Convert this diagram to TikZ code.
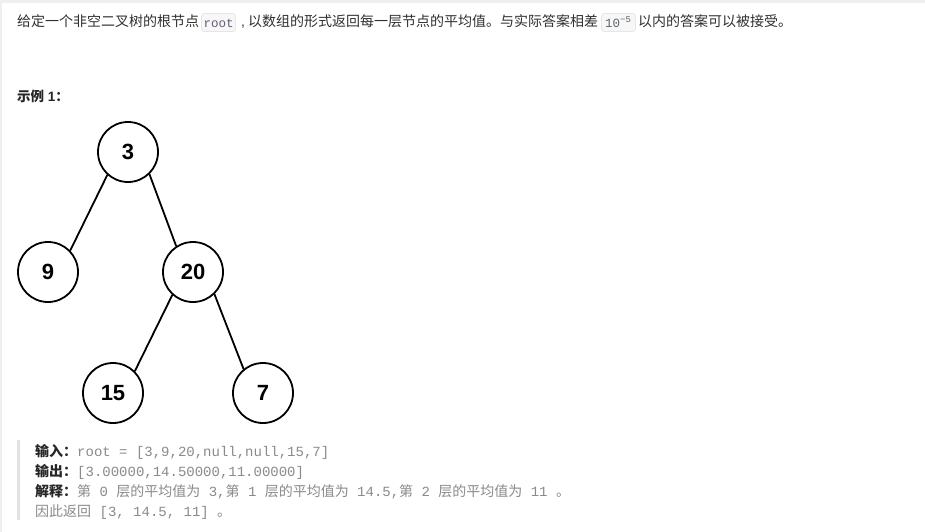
\documentclass[tikz,border=0pt]{standalone}
\usepackage{fontspec}
\setmainfont{Liberation Sans}
\setmonofont{Liberation Mono}
\newfontfamily\cjk{Noto Sans CJK SC}
\definecolor{edgegray}{HTML}{EFEFEF}
\definecolor{maintext}{HTML}{303030}
\definecolor{quotetext}{HTML}{8A8A8A}
\definecolor{labeltext}{HTML}{262626}
\definecolor{barcol}{HTML}{E2E2E2}
\definecolor{codefill}{HTML}{F7F7F8}
\definecolor{codeline}{HTML}{E6E6E8}
\definecolor{codetext}{HTML}{6A5C79}
\definecolor{codetextb}{HTML}{5E6470}
\tikzset{
  txt/.style={inner sep=0pt, anchor=base west, text=maintext, font=\fontsize{14}{14}\selectfont},
  codebox/.style={draw=codeline, fill=codefill, rounded corners=3pt, line width=0.8pt, inner sep=0pt},
  codetxt/.style={inner sep=0pt, anchor=base west, font=\ttfamily\fontsize{12.5}{12.5}\selectfont},
  treenode/.style={circle, draw=black, line width=1.8pt, minimum size=60pt, inner sep=0pt,
    font=\bfseries\fontsize{22}{22}\selectfont, text=black},
  edge/.style={line width=1.8pt, black},
  qtxt/.style={inner sep=0pt, anchor=base west, text=quotetext, font=\ttfamily\fontsize{14}{14}\selectfont},
  qlabel/.style={inner sep=0pt, anchor=base west, text=labeltext, font=\cjk\bfseries\fontsize{14}{14}\selectfont}
}
\begin{document}
\begin{tikzpicture}[x=1pt,y=-1pt]
\useasboundingbox (0,0) rectangle (925,532);
\fill[white] (0,0) rectangle (925,532);
\fill[edgegray] (0,0) rectangle (925,3);
\fill[edgegray] (0,0) rectangle (2,532);

% first paragraph
\node[txt] (p1) at (17,27) {\cjk 给定一个非空二叉树的根节点};
\node[codebox, minimum width=34pt, minimum height=18pt] (rootbox) at (218.5,22.5) {};
\node[codetxt, text=codetext] (roottxt) at (203.5,27.5) {root};
\node[txt] (comma) at (241,27) {,};
\node[txt] (p2) at (248,27) {\cjk 以数组的形式返回每一层节点的平均值。与实际答案相差};
\node[codebox, minimum width=34pt, minimum height=18pt] (epsbox) at (618.5,22.5) {};
\node[codetxt, text=codetextb] (epstxt) at (605,27.5) {10\raisebox{4.5pt}{\fontsize{9}{9}\selectfont −5}};
\node[txt] (p3) at (638,27) {\cjk 以内的答案可以被接受。};

% example heading
\node[txt, font=\bfseries\fontsize{13.5}{13.5}\selectfont, text=labeltext] (ex) at (17,102) {{\cjk 示例} 1{\cjk ：}};

% tree
\node[treenode] (n3) at (128,152) {3};
\node[treenode] (n9) at (48,272) {9};
\node[treenode] (n20) at (193,272) {20};
\node[treenode] (n15) at (113,393) {15};
\node[treenode] (n7) at (263,393) {7};
\draw[edge] (n3.228) -- (n9.44);
\draw[edge] (n3.314) -- (n20.123);
\draw[edge] (n20.228) -- (n15.45);
\draw[edge] (n20.314) -- (n7.129);

% blockquote
\fill[barcol] (17,440) rectangle (20,520);
\node[qlabel] (l1) at (35,456) {输入：};
\node[qtxt] (v1) at (77,456) {root = [3,9,20,null,null,15,7]};
\node[qlabel] (l2) at (35,476) {输出：};
\node[qtxt] (v2) at (77,476) {[3.00000,14.50000,11.00000]};
\node[qlabel] (l3) at (35,496) {解释：};
\node[qtxt] (v3) at (77,496) {{\cjk 第}\ 0\ {\cjk 层的平均值为}\ 3,{\cjk 第}\ 1\ {\cjk 层的平均值为}\ 14.5,{\cjk 第}\ 2\ {\cjk 层的平均值为}\ 11\ {\cjk 。}};
\node[qtxt] (v4) at (35,516) {{\cjk 因此返回}\ [3,\ 14.5,\ 11]\ {\cjk 。}};
\end{tikzpicture}
\end{document}
